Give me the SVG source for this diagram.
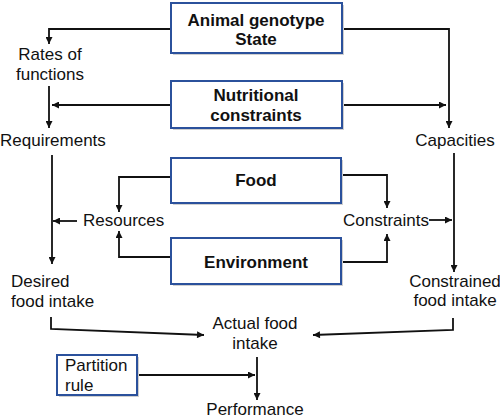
<svg xmlns="http://www.w3.org/2000/svg" width="500" height="420" viewBox="0 0 500 420">
<defs>
<style>
.box{fill:#fff;stroke:#2b519c;stroke-width:2}
.sh{fill:#cfcfcf}
.b{font-family:"Liberation Sans",Arial,sans-serif;font-size:17px;font-weight:bold;fill:#111;text-anchor:middle}
.t{font-family:"Liberation Sans",Arial,sans-serif;font-size:17px;fill:#111}
.c{text-anchor:middle}
.ln{fill:none;stroke:#111;stroke-width:1.8;marker-end:url(#ah)}
</style>
<marker id="ah" viewBox="0 0 10 10" refX="10" refY="5" markerWidth="8" markerHeight="7" markerUnits="userSpaceOnUse" orient="auto">
<path d="M0,0 L10,5 L0,10 z" fill="#111"/>
</marker>
</defs>
<rect width="500" height="420" fill="#fff"/>

<g id="connectors">
<path class="ln" d="M171,29 H49 V44"/>
<path class="ln" d="M171,105 H52"/>
<path class="ln" d="M49,86 V128"/>
<path class="ln" d="M342,29 H449 V128"/>
<path class="ln" d="M342,105 H446"/>
<path class="ln" d="M52,155 V264"/>
<path class="ln" d="M77,221 H53"/>
<path class="ln" d="M171,177 H119 V212"/>
<path class="ln" d="M171,257 H119 V231"/>
<path class="ln" d="M341,175 H387 V208"/>
<path class="ln" d="M341,262 H387 V234"/>
<path class="ln" d="M429,220 H452"/>
<path class="ln" d="M454,153 V272"/>
<path class="ln" d="M51,317 V329 L204,335"/>
<path class="ln" d="M453,318 V330 L313,335"/>
<path class="ln" d="M137,375 H255"/>
<path class="ln" d="M257,357 V400"/>
</g>

<g id="animal-genotype">
<rect class="sh" x="173" y="5" width="171" height="50"/>
<rect class="box" x="171" y="3" width="171" height="50"/>
<text class="b" x="256" y="26">Animal genotype</text>
<text class="b" x="256" y="45">State</text>
</g>
<g id="nutritional-constraints">
<rect class="sh" x="173" y="83" width="171" height="47"/>
<rect class="box" x="171" y="81" width="171" height="47"/>
<text class="b" x="256" y="101">Nutritional</text>
<text class="b" x="256" y="121">constraints</text>
</g>
<g id="food">
<rect class="sh" x="173" y="160" width="170" height="45"/>
<rect class="box" x="171" y="158" width="170" height="45"/>
<text class="b" x="256" y="186">Food</text>
</g>
<g id="environment">
<rect class="sh" x="173" y="240" width="170" height="46"/>
<rect class="box" x="171" y="238" width="170" height="46"/>
<text class="b" x="256" y="268">Environment</text>
</g>
<g id="partition-rule">
<rect class="sh" x="59" y="357" width="80" height="40"/>
<rect class="box" x="57" y="355" width="80" height="40"/>
<text class="t" x="65" y="371">Partition</text>
<text class="t" x="65" y="391">rule</text>
</g>

<g id="rates-of-functions">
<text class="t c" x="50" y="60">Rates of</text>
<text class="t c" x="50" y="80">functions</text>
</g>
<g id="requirements"><text class="t" x="0" y="146">Requirements</text></g>
<g id="capacities"><text class="t c" x="455" y="146">Capacities</text></g>
<g id="resources"><text class="t" x="83" y="226">Resources</text></g>
<g id="constraints"><text class="t" x="343" y="226">Constraints</text></g>
<g id="desired-food-intake">
<text class="t" x="11" y="287">Desired</text>
<text class="t" x="11" y="307">food intake</text>
</g>
<g id="constrained-food-intake">
<text class="t c" x="455" y="287">Constrained</text>
<text class="t c" x="455" y="306">food intake</text>
</g>
<g id="actual-food-intake">
<text class="t c" x="255" y="329">Actual food</text>
<text class="t c" x="255" y="349">intake</text>
</g>
<g id="performance"><text class="t c" x="255" y="415">Performance</text></g>
</svg>
